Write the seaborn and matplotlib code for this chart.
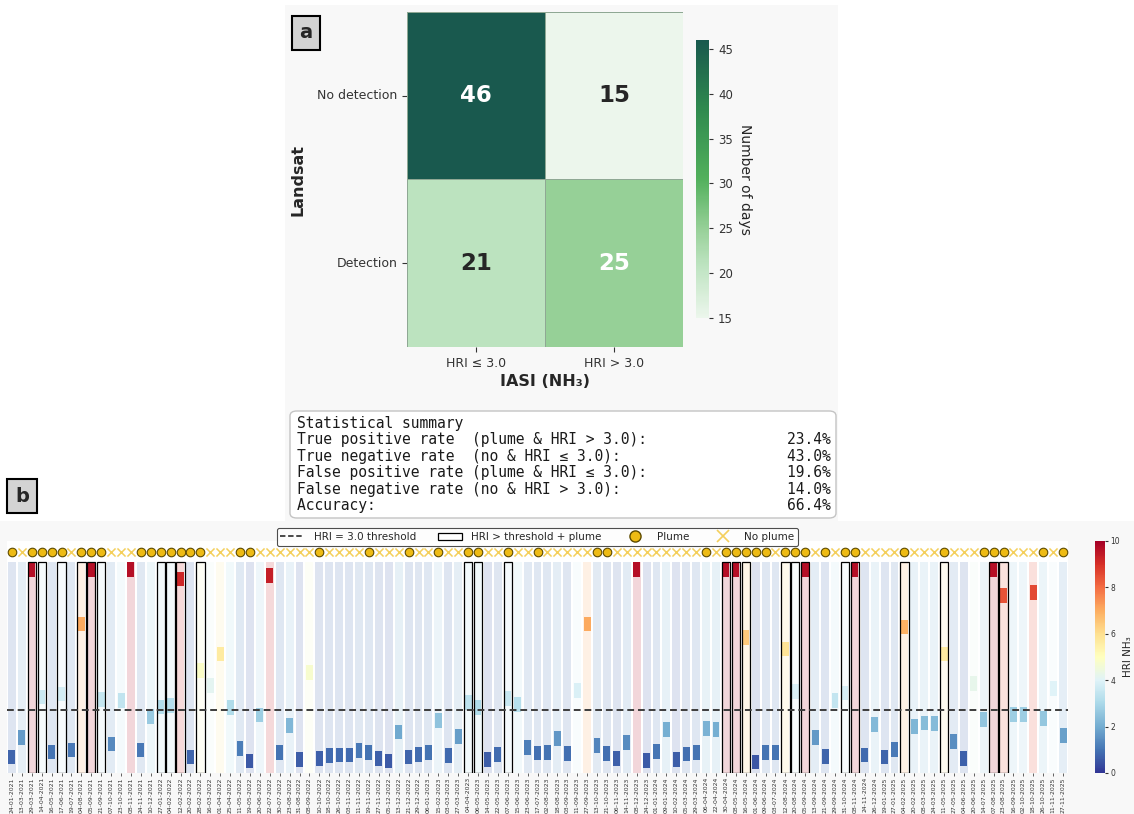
import numpy as np
import pandas as pd
import matplotlib
matplotlib.use("Agg")
import matplotlib.pyplot as plt
import seaborn as sns
from matplotlib.colors import LinearSegmentedColormap, Normalize
from matplotlib.patches import FancyBboxPatch, Rectangle
from matplotlib.lines import Line2D
from matplotlib.cm import ScalarMappable

sns.set_style("white")
plt.rcParams['font.family'] = ['DejaVu Sans']

# --- panel a: confusion matrix ---
row_labels = ["No detection", "Detection"]
col_labels = ["HRI ≤ 3.0", "HRI > 3.0"]
counts = [[46, 15],
          [21, 25]]

# --- panel b: time series ---
dates = [
    "24-01-2021", "13-03-2021", "29-03-2021", "14-04-2021", "16-05-2021", "17-06-2021", "19-07-2021",
    "04-08-2021", "05-09-2021", "21-09-2021", "07-10-2021", "23-10-2021", "08-11-2021", "24-11-2021",
    "10-12-2021", "27-01-2022", "04-02-2022", "12-02-2022", "20-02-2022", "28-02-2022", "16-03-2022",
    "01-04-2022", "25-04-2022", "11-05-2022", "19-05-2022", "20-06-2022", "22-07-2022", "30-07-2022",
    "23-08-2022", "31-08-2022", "08-09-2022", "10-10-2022", "18-10-2022", "26-10-2022", "03-11-2022",
    "11-11-2022", "19-11-2022", "27-11-2022", "05-12-2022", "13-12-2022", "21-12-2022", "29-12-2022",
    "06-01-2023", "15-02-2023", "03-03-2023", "27-03-2023", "04-04-2023", "06-05-2023", "14-05-2023",
    "22-05-2023", "07-06-2023", "15-06-2023", "23-06-2023", "17-07-2023", "02-08-2023", "18-08-2023",
    "03-09-2023", "11-09-2023", "27-09-2023", "13-10-2023", "21-10-2023", "06-11-2023", "14-11-2023",
    "08-12-2023", "24-12-2023", "01-01-2024", "09-01-2024", "10-02-2024", "05-03-2024", "29-03-2024",
    "06-04-2024", "22-04-2024", "30-04-2024", "08-05-2024", "16-05-2024", "01-06-2024", "09-06-2024",
    "03-07-2024", "12-08-2024", "20-08-2024", "05-09-2024", "13-09-2024", "21-09-2024", "29-09-2024",
    "31-10-2024", "08-11-2024", "24-11-2024", "26-12-2024", "19-01-2025", "27-01-2025", "04-02-2025",
    "20-02-2025", "08-03-2025", "24-03-2025", "11-05-2025", "27-05-2025", "04-06-2025", "20-06-2025",
    "14-07-2025", "07-08-2025", "23-08-2025", "16-09-2025", "02-10-2025", "18-10-2025", "26-10-2025",
    "11-11-2025", "27-11-2025",
]
hri = [
    0.76, 1.70, 9.65, 3.60, 1.00, 3.75, 1.09, 7.06, 9.65, 3.50,
    1.37, 3.43, 9.65, 1.09, 2.67, 3.13, 3.20, 9.20, 0.76, 4.85,
    4.14, 5.64, 3.10, 1.15, 0.57, 2.75, 9.37, 0.98, 2.26, 0.65,
    4.75, 0.68, 0.84, 0.85, 0.85, 1.06, 0.98, 0.68, 0.57, 1.94,
    0.76, 0.88, 0.99, 2.50, 0.84, 1.74, 3.33, 3.10, 0.63, 0.88,
    3.55, 3.24, 1.21, 0.95, 0.99, 1.63, 0.93, 3.90, 7.06, 1.30,
    0.92, 0.68, 1.44, 9.65, 0.59, 1.02, 2.07, 0.63, 0.90, 0.99,
    2.12, 2.05, 9.65, 9.65, 6.43, 0.52, 0.99, 0.99, 5.88, 3.87,
    9.65, 1.67, 0.77, 3.44, 3.79, 9.65, 0.85, 2.30, 0.76, 1.12,
    6.92, 2.21, 2.37, 2.34, 5.64, 1.48, 0.68, 4.23, 2.54, 9.65,
    8.40, 2.77, 2.77, 8.56, 2.58, 4.01, 1.78,
]
plume = [
    1, 0, 1, 1, 1, 1, 0, 1, 1, 1,
    0, 0, 0, 1, 1, 1, 1, 1, 1, 1,
    0, 0, 0, 1, 1, 0, 0, 0, 0, 0,
    0, 1, 0, 0, 0, 0, 1, 0, 0, 0,
    1, 0, 0, 1, 0, 0, 1, 1, 0, 0,
    1, 0, 0, 1, 0, 0, 0, 0, 0, 1,
    1, 0, 0, 0, 0, 0, 0, 0, 0, 0,
    1, 0, 1, 1, 1, 1, 1, 0, 1, 1,
    1, 0, 1, 0, 1, 1, 0, 0, 0, 0,
    1, 0, 0, 0, 1, 0, 0, 0, 1, 1,
    1, 0, 0, 0, 1, 0, 1,
]
threshold = 3.0

W, H = 1134, 814
fig = plt.figure(figsize=(W / 100, H / 100), dpi=100)
fig.patch.set_facecolor('white')


def px_axes(x0, y0, x1, y1):
    return fig.add_axes([x0 / W, 1 - y1 / H, (x1 - x0) / W, (y1 - y0) / H])


# light grey panel backgrounds
fig.patches.append(Rectangle((285 / W, 1 - 522 / H), (838 - 285) / W, (522 - 5) / H,
                             transform=fig.transFigure, fc='#f8f8f8', ec='none', zorder=-10))
fig.patches.append(Rectangle((0, 0), 1, (814 - 521) / H,
                             transform=fig.transFigure, fc='#f8f8f8', ec='none', zorder=-10))

# ---------------- panel a ----------------
greens = LinearSegmentedColormap.from_list('greens_a', [
    (0.0, '#ecf6ec'), (0.19, '#bde3c0'), (0.32, '#97d098'),
    (0.5, '#52b05c'), (0.75, '#2f8a4f'), (1.0, '#19594e')])

ax_a = px_axes(407, 12, 683, 347)
cax_a = px_axes(696, 40, 709, 318)
df_cm = pd.DataFrame(counts, index=row_labels, columns=col_labels)
sns.heatmap(df_cm, ax=ax_a, cbar_ax=cax_a, cmap=greens, annot=True, fmt='d',
            annot_kws={'fontsize': 16.5, 'fontweight': 'bold'},
            linewidths=0.6, linecolor='#8fa894')
flat = np.array(counts).ravel()
for txt, v in zip(ax_a.texts, flat):
    txt.set_color('white' if v > 22 else '#262626')
ax_a.tick_params(left=True, bottom=True, length=3.5, width=0.8, labelsize=9, colors='#333333')
ax_a.set_yticklabels(row_labels, rotation=0)
ax_a.set_xticklabels(col_labels, rotation=0)
ax_a.set_ylabel('Landsat', fontsize=11.5, fontweight='bold', labelpad=8)
ax_a.set_xlabel('IASI (NH₃)', fontsize=11.5, fontweight='bold', labelpad=3)
cax_a.tick_params(right=True, length=3, labelsize=8.5, colors='#333333')
cax_a.set_ylabel('Number of days', rotation=270, fontsize=10, labelpad=14)

fig.text(306 / W, 1 - 33 / H, 'a', ha='center', va='center', fontsize=14, fontweight='bold',
         bbox=dict(boxstyle='square,pad=0.4', fc='#d3d3d3', ec='black', lw=1.5))

# statistical summary box
tn, fn = counts[0]
fp, tp = counts[1]
total = tn + fn + fp + tp
stats = [
    ("True positive rate  (plume & HRI > 3.0):", tp / total),
    ("True negative rate  (no & HRI ≤ 3.0):", tn / total),
    ("False positive rate (plume & HRI ≤ 3.0):", fp / total),
    ("False negative rate (no & HRI > 3.0):", fn / total),
    ("Accuracy:", (tp + tn) / total),
]
lines = ["Statistical summary"] + [lab.ljust(56) + f"{val * 100:.1f}%" for lab, val in stats]
fig.patches.append(FancyBboxPatch((290 / W, 1 - 518 / H), (836 - 290) / W, (518 - 411) / H,
                                  boxstyle='round,pad=0,rounding_size=0.006',
                                  transform=fig.transFigure, fc='white', ec='#c4c4c4', lw=1))
fig.text(297 / W, 1 - 416 / H, "\n".join(lines), family='DejaVu Sans Mono', fontsize=10.5,
         va='top', ha='left', linespacing=1.12, color='#1a1a1a')

# ---------------- panel b ----------------
cmap_b = plt.get_cmap('RdYlBu_r')
norm_b = Normalize(0, 10)
xs = np.arange(len(dates))
vals = np.array(hri)
is_plume = np.array(plume) == 1
cols = cmap_b(norm_b(vals))

ax_b = px_axes(7, 541, 1068, 773)
ax_b.set_facecolor('white')
ax_b.bar(xs, 10, width=0.8, bottom=0, color=cols, alpha=0.17, linewidth=0, zorder=1)
ax_b.bar(xs, 0.7, width=0.7, bottom=vals - 0.35, color=cols, linewidth=0, zorder=2)
hit = is_plume & (vals > threshold)
ax_b.bar(xs[hit], 10, width=0.84, bottom=0, fill=False, edgecolor='black', linewidth=0.9, zorder=3)
ax_b.axhline(threshold, ls=(0, (3.5, 2)), color='#3c3c3c', lw=1.4, zorder=4)
ax_b.scatter(xs[is_plume], np.full(is_plume.sum(), 10.5), marker='o', s=38, c='#eebb14',
             edgecolors='#5e4b00', linewidths=0.8, zorder=5, clip_on=False)
ax_b.scatter(xs[~is_plume], np.full((~is_plume).sum(), 10.5), marker='x', s=34, c='#f4cf5c',
             linewidths=1.1, zorder=5, clip_on=False)
ax_b.set_xlim(-0.5, len(dates) - 0.5)
ax_b.set_ylim(0, 11)
ax_b.set_yticks([])
ax_b.set_xticks(xs)
ax_b.set_xticklabels(dates, rotation=90, fontsize=4.4, color='#333333')
ax_b.tick_params(axis='x', bottom=True, length=2, width=0.5, pad=1)
for sp in ax_b.spines.values():
    sp.set_visible(False)

handles = [
    Line2D([0], [0], ls=(0, (3, 1.5)), color='#3c3c3c', lw=1.3, label='HRI = 3.0 threshold'),
    Rectangle((0, 0), 1, 1, fc='white', ec='black', lw=0.9, label='HRI > threshold + plume'),
    Line2D([0], [0], marker='o', ls='none', mfc='#eebb14', mec='#5e4b00', ms=8,
           label='Plume'),
    Line2D([0], [0], marker='x', ls='none', color='#f4cf5c', ms=9, mew=1.2, label='No plume'),
]
leg = ax_b.legend(handles=handles, loc='center', bbox_to_anchor=(0.5, 1.017), ncol=4,
                  fontsize=7.5, frameon=True, fancybox=True, borderpad=0.35,
                  columnspacing=2.1, handlelength=2.3, handletextpad=0.9)
leg.get_frame().set_edgecolor('#222222')
leg.get_frame().set_linewidth(0.8)
leg.set_zorder(10)

cax_b = px_axes(1095, 541, 1105, 773)
cb = fig.colorbar(ScalarMappable(norm=norm_b, cmap=cmap_b), cax=cax_b)
cb.outline.set_linewidth(0)
cb.set_ticks([0, 2, 4, 6, 8, 10])
cax_b.tick_params(labelsize=5.5, length=2.5, colors='#333333', pad=1.5)
cb.set_label('HRI NH₃', fontsize=7.5, labelpad=2)

fig.text(22 / W, 1 - 496 / H, 'b', ha='center', va='center', fontsize=14, fontweight='bold',
         bbox=dict(boxstyle='square,pad=0.4', fc='#d3d3d3', ec='black', lw=1.5))

fig.savefig('out.png', dpi=100)
